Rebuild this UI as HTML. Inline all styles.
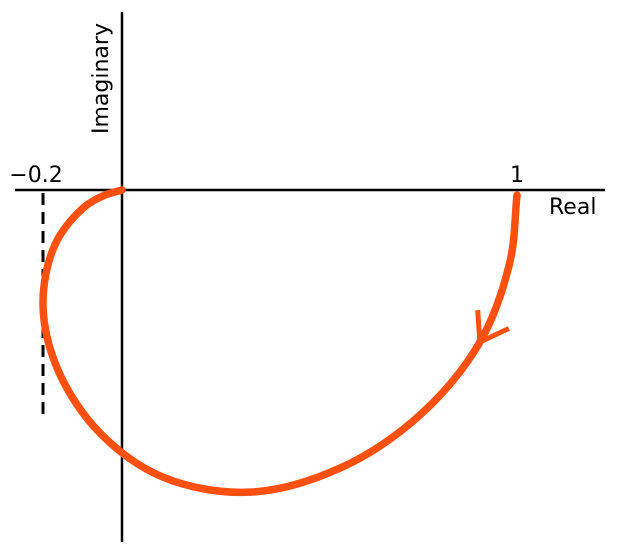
<!DOCTYPE html>
<html><head><meta charset="utf-8"><style>
html,body{margin:0;padding:0;background:#fff;}
svg{display:block;}
text{font-family:"DejaVu Sans","Liberation Sans",sans-serif;fill:#000;}
</style></head><body>
<svg id="chart" width="617" height="550" viewBox="0 0 617 550">
  <line x1="15" y1="190" x2="605" y2="190" stroke="#000" stroke-width="2.5"/>
  <line x1="122" y1="12" x2="122" y2="542" stroke="#000" stroke-width="2.5"/>
  <line x1="43" y1="193" x2="43" y2="420" stroke="#000" stroke-width="3" stroke-dasharray="12,7"/>
  <text x="36" y="182" font-size="22" text-anchor="middle">−0.2</text>
  <text x="517" y="182" font-size="22" text-anchor="middle">1</text>
  <text x="549" y="214" font-size="22">Real</text>
  <text transform="translate(108,134) rotate(-90)" font-size="22">Imaginary</text>
  <g id="series"></g>
</svg>
<script>
const re = [1.000, 0.982, 0.906, 0.754, 0.552, 0.324, 0.104, -0.056, -0.162, -0.200, -0.170, -0.099, -0.048, 0];
const im = [-0.013, -0.182, -0.385, -0.570, -0.704, -0.765, -0.727, -0.615, -0.456, -0.291, -0.139, -0.046, -0.015, 0];
const arrowIndex = 2;
const ox = 122, oy = 190, sc = 395;
function X(v){return ox + v*sc;}
function Y(v){return oy - v*sc;}
const pts = re.map((r,i)=>[X(r),Y(im[i])]);
const n = pts.length;
const ext = [[2*pts[0][0]-pts[1][0], 2*pts[0][1]-pts[1][1]]].concat(pts, [[2*pts[n-1][0]-pts[n-2][0], 2*pts[n-1][1]-pts[n-2][1]]]);
function dist(a,b){return Math.pow(Math.hypot(a[0]-b[0],a[1]-b[1]),0.5)||1e-6;}
let d = 'M'+pts[0][0]+','+pts[0][1];
for(let i=1;i<ext.length-2;i++){
  const p0=ext[i-1],p1=ext[i],p2=ext[i+1],p3=ext[i+2];
  const d1=dist(p0,p1),d2=dist(p1,p2),d3=dist(p2,p3);
  const c1=[0,1].map(k=>(d1*d1*p2[k]-d2*d2*p0[k]+(2*d1*d1+3*d1*d2+d2*d2)*p1[k])/(3*d1*(d1+d2)));
  const c2=[0,1].map(k=>(d3*d3*p1[k]-d2*d2*p3[k]+(2*d3*d3+3*d3*d2+d2*d2)*p2[k])/(3*d3*(d3+d2)));
  d+=' C'+c1[0]+','+c1[1]+' '+c2[0]+','+c2[1]+' '+p2[0]+','+p2[1];
}
const g=document.getElementById('series');
const ns='http://www.w3.org/2000/svg';
const path=document.createElementNS(ns,'path');
path.setAttribute('d',d);
path.setAttribute('fill','none');
path.setAttribute('stroke','#ff5010');
path.setAttribute('stroke-width','7.5');
path.setAttribute('stroke-linecap','round');


g.appendChild(path);
const a=pts[arrowIndex], b=pts[arrowIndex-1], c=pts[arrowIndex+1];
const ang=Math.atan2(c[1]-b[1],c[0]-b[0]);
const L=32, spread=0.6;
const arrow=document.createElementNS(ns,'path');
const l1=[a[0]-L*Math.cos(ang-spread),a[1]-L*Math.sin(ang-spread)];
const l2=[a[0]-L*Math.cos(ang+spread),a[1]-L*Math.sin(ang+spread)];
arrow.setAttribute('d','M'+l1[0]+','+l1[1]+' L'+a[0]+','+a[1]+' L'+l2[0]+','+l2[1]);
arrow.setAttribute('fill','none');
arrow.setAttribute('stroke','#ff5010');
arrow.setAttribute('stroke-width','5');


g.appendChild(arrow);
</script>
</body></html>
